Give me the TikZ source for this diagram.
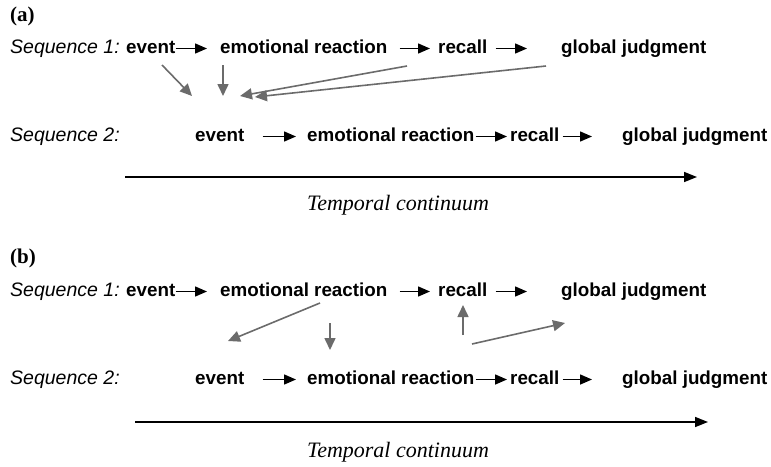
\documentclass[tikz,border=0pt]{standalone}
\usepackage{fontspec}
\usetikzlibrary{arrows.meta}
\newfontfamily\seqfont{Liberation Sans}
\newfontfamily\capfont{Liberation Serif}
\definecolor{linkgray}{HTML}{6B6B6B}

\begin{document}
\begin{tikzpicture}[x=1pt, y=-1pt,
    every node/.style={inner sep=0pt, anchor=base west},
    seqitem/.style={font=\seqfont\fontsize{18.8}{22}\selectfont\bfseries, text height=13pt, text depth=4pt},
    seqname/.style={font=\seqfont\fontsize{19.5}{22}\selectfont\itshape, text height=13pt, text depth=4pt},
    panellabel/.style={font=\capfont\fontsize{21}{24}\selectfont\bfseries},
    axislabel/.style={font=\capfont\fontsize{22}{25}\selectfont\itshape, anchor=base},
    seqarrow/.style={line width=1.5pt, -{Triangle[length=12pt,width=10pt]}},
    feedback/.style={linkgray, line width=1.6pt, -{Triangle[length=12pt,width=11pt]}},
    timeline/.style={line width=1.6pt, -{Triangle[length=13pt,width=10pt]}}]
    \useasboundingbox (0,0) rectangle (771,466);

    % panel (a)
    \node[panellabel] (pa) at (10, 21) {(a)};

    \node[seqname] (s1a) at (10, 53) {Sequence 1:};
    \node[seqitem] (ev1a) at (126, 53) {event};
    \node[seqitem] (em1a) at (220, 53) {emotional reaction};
    \node[seqitem] (rc1a) at (438, 53) {recall};
    \node[seqitem] (gj1a) at (561, 53) {global judgment};

    \node[seqname] (s2a) at (10, 141) {Sequence 2:};
    \node[seqitem] (ev2a) at (195, 141) {event};
    \node[seqitem] (em2a) at (307, 141) {emotional reaction};
    \node[seqitem] (rc2a) at (510, 141) {recall};
    \node[seqitem] (gj2a) at (622, 141) {global judgment};

    \draw [seqarrow, shorten >=13pt] (ev1a) -- (em1a);
    \draw [seqarrow, shorten <=12pt, shorten >=8pt] (em1a) -- (rc1a);
    \draw [seqarrow, shorten <=8pt, shorten >=34pt] (rc1a) -- (gj1a);

    \draw [seqarrow, shorten <=18pt, shorten >=11pt] (ev2a) -- (em2a);
    \draw [seqarrow, shorten <=1pt, shorten >=3pt] (em2a) -- (rc2a);
    \draw [seqarrow, shorten <=3pt, shorten >=30pt] (rc2a) -- (gj2a);

    \coordinate (fa1) at (162, 65);  \coordinate (ta1) at (192, 96);
    \coordinate (fa2) at (223, 65);  \coordinate (ta2) at (223, 96);
    \coordinate (fa3) at (407, 66);  \coordinate (ta3) at (240, 96);
    \coordinate (fa4) at (546, 66);  \coordinate (ta4) at (255, 97);
    \draw [feedback] (fa1) -- (ta1);
    \draw [feedback] (fa2) -- (ta2);
    \draw [feedback] (fa3) -- (ta3);
    \draw [feedback] (fa4) -- (ta4);

    \coordinate (t0a) at (125, 177);
    \coordinate (t1a) at (697, 177);
    \draw [timeline] (t0a) -- (t1a);
    \node[axislabel] (tca) at (398, 210) {Temporal continuum};

    % panel (b)
    \node[panellabel] (pb) at (10, 263) {(b)};

    \node[seqname] (s1b) at (10, 296) {Sequence 1:};
    \node[seqitem] (ev1b) at (126, 296) {event};
    \node[seqitem] (em1b) at (220, 296) {emotional reaction};
    \node[seqitem] (rc1b) at (438, 296) {recall};
    \node[seqitem] (gj1b) at (561, 296) {global judgment};

    \node[seqname] (s2b) at (10, 384) {Sequence 2:};
    \node[seqitem] (ev2b) at (195, 384) {event};
    \node[seqitem] (em2b) at (307, 384) {emotional reaction};
    \node[seqitem] (rc2b) at (510, 384) {recall};
    \node[seqitem] (gj2b) at (622, 384) {global judgment};

    \draw [seqarrow, shorten >=13pt] (ev1b) -- (em1b);
    \draw [seqarrow, shorten <=12pt, shorten >=8pt] (em1b) -- (rc1b);
    \draw [seqarrow, shorten <=8pt, shorten >=34pt] (rc1b) -- (gj1b);

    \draw [seqarrow, shorten <=18pt, shorten >=11pt] (ev2b) -- (em2b);
    \draw [seqarrow, shorten <=1pt, shorten >=3pt] (em2b) -- (rc2b);
    \draw [seqarrow, shorten <=3pt, shorten >=30pt] (rc2b) -- (gj2b);

    \coordinate (fb1) at (320, 303);  \coordinate (tb1) at (228, 341);
    \coordinate (fb2) at (330, 323);  \coordinate (tb2) at (330, 350);
    \coordinate (fb3) at (463, 335);  \coordinate (tb3) at (463, 305);
    \coordinate (fb4) at (472, 344);  \coordinate (tb4) at (565, 323);
    \draw [feedback] (fb1) -- (tb1);
    \draw [feedback] (fb2) -- (tb2);
    \draw [feedback] (fb3) -- (tb3);
    \draw [feedback] (fb4) -- (tb4);

    \coordinate (t0b) at (135, 422);
    \coordinate (t1b) at (708, 422);
    \draw [timeline] (t0b) -- (t1b);
    \node[axislabel] (tcb) at (398, 457) {Temporal continuum};
\end{tikzpicture}
\end{document}
